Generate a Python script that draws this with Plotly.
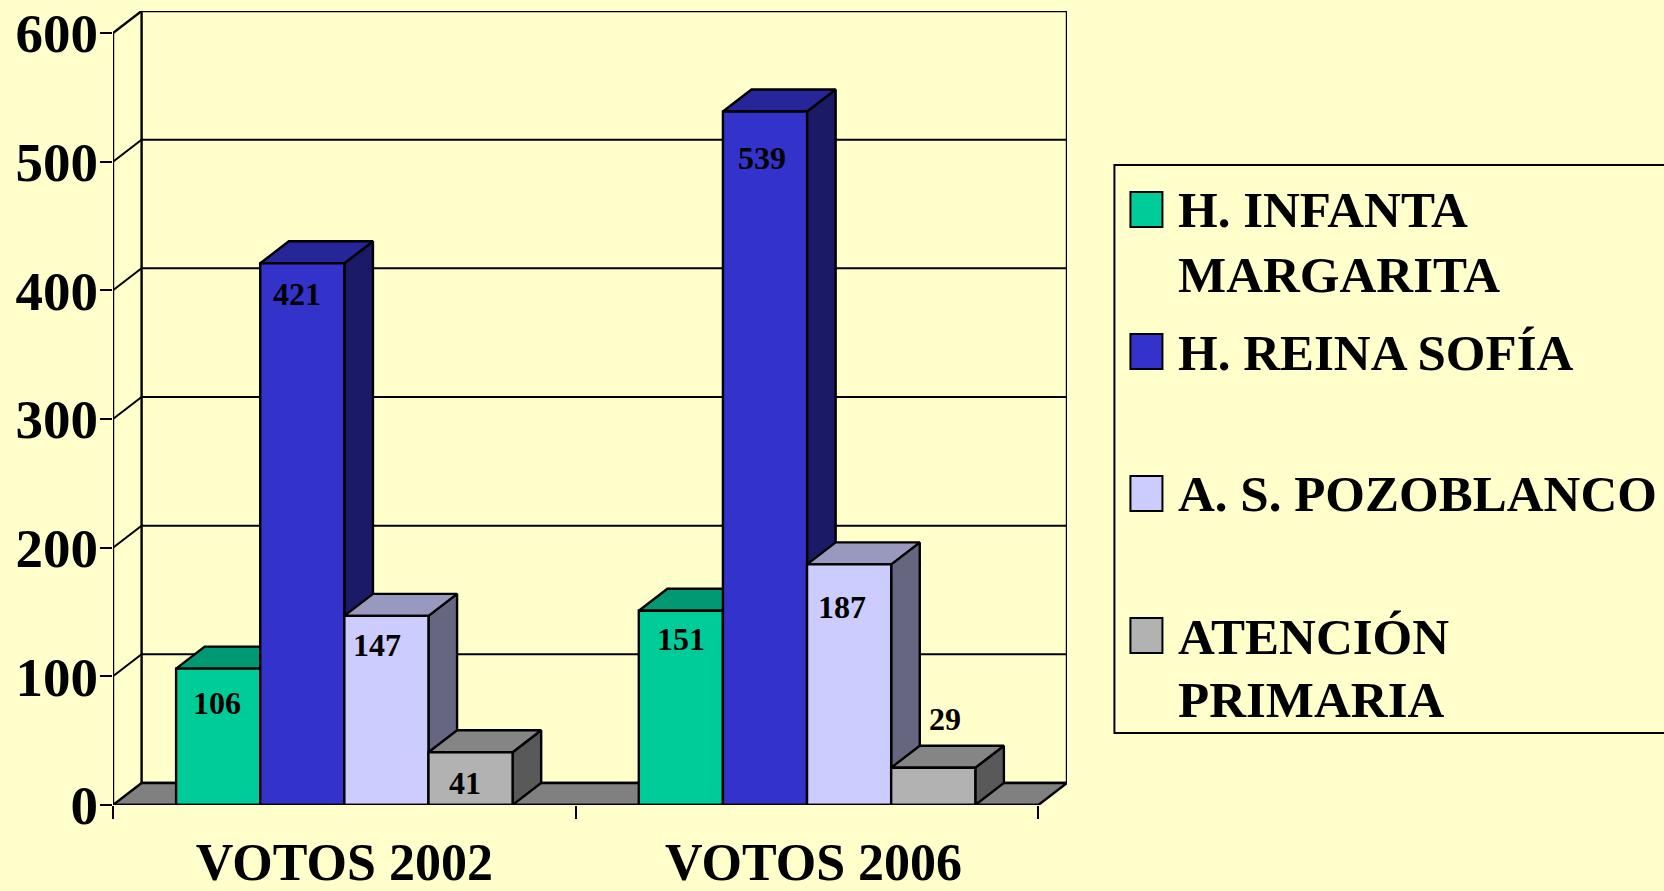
import plotly.graph_objects as go

# ---------- data ----------
categories = ["VOTOS 2002", "VOTOS 2006"]
series_names = ["H. INFANTA<br>MARGARITA", "H. REINA SOFÍA", "A. S. POZOBLANCO", "ATENCIÓN<br>PRIMARIA"]
infanta = [106, 151]
reina = [421, 539]
pozoblanco = [147, 187]
primaria = [41, 29]
y_ticks = [0, 100, 200, 300, 400, 500, 600]

# ---------- style ----------
series_values = [infanta, reina, pozoblanco, primaria]
front = ["#00CC99", "#3333CC", "#CCCCFF", "#B2B2B2"]
top = ["#009973", "#262699", "#9999BF", "#858585"]
side = ["#006B50", "#1A1A66", "#666680", "#595959"]
BG = "#FFFFCC"
FONT = "Liberation Serif"
LW = 2.4

# geometry (category units / value units)
DX, DY = 0.0618, 17.1
BAR_W = 0.1818
N = len(categories)
YMAX = y_ticks[-1]
PLOT_L, PLOT_T, PLOT_W, PLOT_H = 113, 11, 953.6, 794

# label offsets in pixels, [group][series]
label_dx = [[-1, -5, -9.5, -6], [0, -3, -7.5, 11.5]]
label_dy = [[34, 31, 29, 31], [28, 47, 43, -49]]

fig = go.Figure()


def poly(xs, ys, fill, name="", width=LW):
    fig.add_trace(go.Scatter(
        x=xs, y=ys, mode="lines", fill="toself", fillcolor=fill,
        line=dict(color="black", width=width), hoverinfo="skip",
        showlegend=False, name=name, cliponaxis=False))


def line(xs, ys, width=LW):
    fig.add_trace(go.Scatter(
        x=xs, y=ys, mode="lines", line=dict(color="black", width=width),
        hoverinfo="skip", showlegend=False, cliponaxis=False))


# back wall and floor
poly([DX, N + DX, N + DX, DX, DX], [DY, DY, YMAX + DY, YMAX + DY, DY], BG, "wall")
line([0, DX], [YMAX, YMAX + DY])
for v in y_ticks[1:-1]:
    line([0, DX, N + DX], [v, v + DY, v + DY], width=2)
poly([0, N, N + DX, DX, 0], [0, 0, DY, DY, 0], "#808080", "floor")

# bars, back to front in painter order
annotations = []
for g in range(N):
    x_start = g + 0.5 - 2 * BAR_W
    for s, vals in enumerate(series_values):
        v = vals[g]
        x0 = x_start + s * BAR_W
        x1 = x0 + BAR_W
        poly([x1, x1 + DX, x1 + DX, x1, x1], [0, DY, v + DY, v, 0], side[s])
        poly([x0, x1, x1 + DX, x0 + DX, x0], [v, v, v + DY, v + DY, v], top[s])
        poly([x0, x1, x1, x0, x0], [0, 0, v, v, 0], front[s], series_names[s].replace("<br>", " "))
        annotations.append(dict(
            x=(x0 + x1) / 2, y=v, xref="x", yref="y", text=str(v), showarrow=False,
            xanchor="center", yanchor="middle",
            xshift=label_dx[g][s], yshift=-label_dy[g][s],
            font=dict(family=FONT, size=32, color="black", weight=700)))

# front axis lines
line([0, 0], [0, YMAX])
line([0, N], [0, 0])


# legend drawn in page pixels, converted to paper coordinates
def px(x):
    return (x - PLOT_L) / PLOT_W


def py(y):
    return 1 - (y - PLOT_T) / PLOT_H


shapes = [dict(type="rect", xref="paper", yref="paper", x0=px(1114), x1=px(1700), y0=py(165), y1=py(733),
               line=dict(color="black", width=2), fillcolor=BG, layer="below")]
swatch_tops = [192, 334, 476, 618]
line_pos = [[210, 275], [353], [494], [637, 700]]
for s, name in enumerate(series_names):
    shapes.append(dict(type="rect", xref="paper", yref="paper",
                       x0=px(1130), x1=px(1162), y0=py(swatch_tops[s]), y1=py(swatch_tops[s] + 35),
                       line=dict(color="black", width=2), fillcolor=front[s]))
    for text, yp in zip(name.split("<br>"), line_pos[s]):
        annotations.append(dict(
            x=px(1176), y=py(yp), xref="paper", yref="paper", text=text, showarrow=False,
            xanchor="left", yanchor="middle",
            font=dict(family=FONT, size=51, color="black", weight=700)))

fig.update_layout(
    width=1664, height=891,
    margin=dict(l=PLOT_L, t=PLOT_T, r=1664 - PLOT_L - PLOT_W, b=891 - PLOT_T - PLOT_H, autoexpand=False),
    paper_bgcolor=BG, plot_bgcolor=BG, showlegend=False,
    shapes=shapes, annotations=annotations,
    xaxis=dict(
        range=[0, N + DX], showgrid=False, zeroline=False, showline=False,
        tickmode="array", tickvals=[0.5, 1.514], ticktext=categories, ticks="",
        ticklabelstandoff=22,
        tickfont=dict(family=FONT, size=52, color="black", weight=700),
        minor=dict(tickmode="array", tickvals=[0, 1, 2], ticks="outside", ticklen=13,
                   tickwidth=2, tickcolor="black", showgrid=False)),
    yaxis=dict(
        range=[0, YMAX + DY], showgrid=False, zeroline=False, showline=False,
        tickmode="array", tickvals=y_ticks, ticks="outside", ticklen=12,
        tickwidth=2, tickcolor="black", ticklabelstandoff=-9,
        tickfont=dict(family=FONT, size=55, color="black", weight=700)),
)

fig.write_html("out.html", config=dict(displayModeBar=False),
               post_script="document.body.style.margin='0';document.body.style.overflow='hidden';")
